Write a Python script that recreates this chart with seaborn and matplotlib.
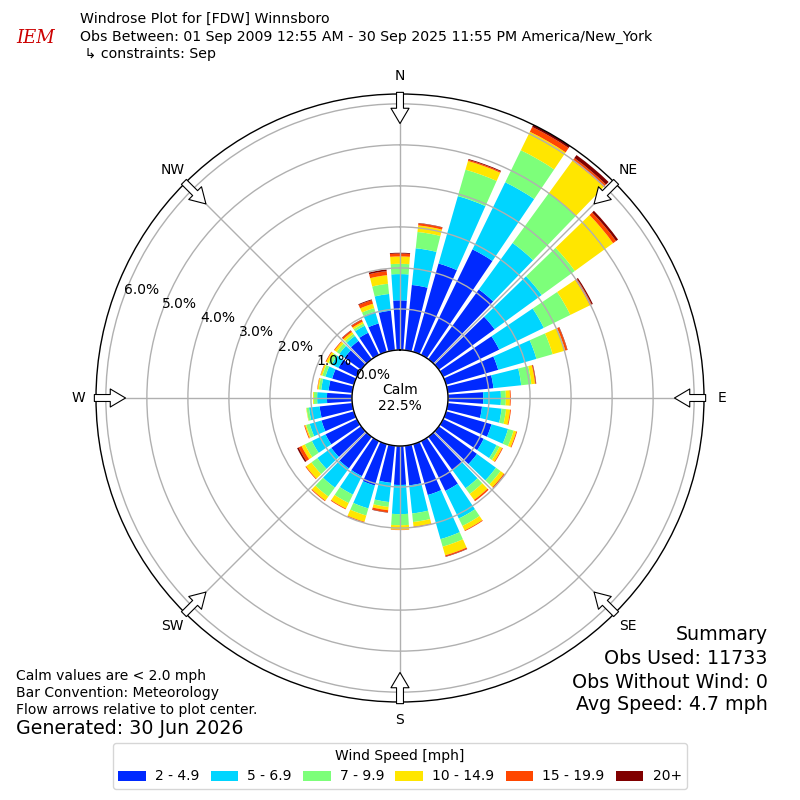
import numpy as np
import matplotlib
matplotlib.use("Agg")
import matplotlib.pyplot as plt
import seaborn as sns

# ---------------- data (percent of observations) ----------------
directions = [0, 10, 20, 30, 40, 50, 60, 70, 80, 90, 100, 110, 120, 130, 140, 150, 160, 170,
              180, 190, 200, 210, 220, 230, 240, 250, 260, 270, 280, 290, 300, 310, 320, 330, 340, 350]
speed_labels = ["2 - 4.9", "5 - 6.9", "7 - 9.9", "10 - 14.9", "15 - 19.9", "20+"]

bin_2_5 = [1.21, 1.60, 2.24, 2.86, 2.10, 1.68, 1.52, 1.32, 1.12, 0.86, 0.84, 1.15, 1.10, 1.15, 1.00, 1.35, 1.29, 0.97,
           0.95, 0.91, 1.05, 0.95, 0.95, 0.90, 0.85, 0.82, 0.80, 0.61, 0.58, 0.55, 0.50, 0.50, 0.55, 0.60, 0.72, 0.97]
bin_5_7 = [0.64, 0.90, 1.71, 1.82, 1.40, 1.42, 1.21, 0.97, 0.68, 0.43, 0.48, 0.42, 0.35, 0.57, 0.55, 0.75, 1.12, 0.69,
           0.71, 0.47, 0.58, 0.50, 0.58, 0.42, 0.37, 0.30, 0.26, 0.24, 0.18, 0.17, 0.18, 0.16, 0.15, 0.19, 0.30, 0.41]
bin_7_10 = [0.25, 0.40, 0.67, 0.87, 1.50, 1.00, 0.72, 0.41, 0.25, 0.12, 0.11, 0.14, 0.08, 0.14, 0.17, 0.20, 0.19, 0.21,
            0.27, 0.12, 0.18, 0.23, 0.27, 0.18, 0.19, 0.09, 0.06, 0.08, 0.06, 0.08, 0.09, 0.08, 0.06, 0.06, 0.09, 0.25]
bin_10_15 = [0.18, 0.16, 0.22, 0.50, 0.98, 1.15, 0.53, 0.32, 0.09, 0.10, 0.10, 0.07, 0.07, 0.10, 0.18, 0.12, 0.22, 0.11,
             0.11, 0.08, 0.16, 0.15, 0.12, 0.16, 0.09, 0.03, 0.01, 0.02, 0.03, 0.04, 0.06, 0.06, 0.06, 0.05, 0.11, 0.21]
bin_15_20 = [0.07, 0.05, 0.03, 0.13, 0.08, 0.09, 0.05, 0.05, 0.02, 0.02, 0.02, 0.02, 0.02, 0.03, 0.04, 0.02, 0.03, 0.02,
             0.01, 0.05, 0.02, 0.02, 0.02, 0.02, 0.08, 0.02, 0.00, 0.00, 0.01, 0.01, 0.02, 0.02, 0.04, 0.05, 0.09, 0.10]
bin_20p = [0.02, 0.01, 0.02, 0.06, 0.09, 0.06, 0.03, 0.01, 0.01, 0.00, 0.00, 0.00, 0.00, 0.00, 0.00, 0.00, 0.01, 0.00,
           0.00, 0.01, 0.00, 0.00, 0.00, 0.00, 0.04, 0.00, 0.00, 0.00, 0.00, 0.00, 0.00, 0.00, 0.01, 0.01, 0.02, 0.04]
speed_bins = [bin_2_5, bin_5_7, bin_7_10, bin_10_15, bin_15_20, bin_20p]

calm_pct = 22.5
ring_ticks = [0, 1, 2, 3, 4, 5, 6]
compass = ["N", "NE", "E", "SE", "S", "SW", "W", "NW"]

# ---------------- style ----------------
sns.set_style("white")
plt.rcParams["font.family"] = ["DejaVu Sans"]
plt.rcParams["text.color"] = "black"
plt.rcParams["axes.labelcolor"] = "black"
plt.rcParams["xtick.color"] = "black"
plt.rcParams["ytick.color"] = "black"
plt.rcParams["axes.axisbelow"] = "line"

cmap = plt.get_cmap("jet")
palette = sns.color_palette([cmap(i / 6.0) for i in range(1, 7)])

fig = plt.figure(figsize=(8, 8), dpi=100)
ax = fig.add_axes([0.12, 0.1225, 0.76, 0.76], projection="polar")
ax.set_theta_zero_location("N")
ax.set_theta_direction(-1)

theta = np.deg2rad(directions)
width = np.deg2rad(8.0)
bottom = np.zeros(len(directions))
handles = []
for vals, col, lab in zip(speed_bins, palette, speed_labels):
    v = np.asarray(vals)
    bars = ax.bar(theta, v, width=width, bottom=bottom, color=col, linewidth=0,
                  label=lab, zorder=1)
    handles.append(bars)
    bottom = bottom + v

rmax = bottom.max()
ax.set_rorigin(-0.1875 * rmax)
ax.set_ylim(0, rmax)
ax.set_yticks(ring_ticks)
ax.set_yticklabels(["%.1f%%" % t for t in ring_ticks], fontsize=10)
ax.set_rlabel_position(290)
ax.set_thetagrids(np.arange(0, 360, 45), labels=compass, fontsize=10)
ax.tick_params(axis="x", pad=2.5)
ax.grid(True, color="#b0b0b0", linewidth=1.0)
for name, sp in ax.spines.items():
    sp.set_edgecolor("black")
    sp.set_linewidth(1.0)

# flow arrows at the compass points
for d in range(0, 360, 45):
    t = np.deg2rad(d)
    ax.annotate("", xy=(t, rmax - 0.72), xytext=(t, rmax + 0.04),
                arrowprops=dict(facecolor="white", edgecolor="black", width=5,
                                headwidth=13, headlength=11, shrink=0, lw=0.8),
                annotation_clip=False, zorder=5)

ax.text(0.5, 0.5, "Calm\n%.1f%%" % calm_pct, transform=ax.transAxes,
        ha="center", va="center", fontsize=10, zorder=6)

# header
fig.text(0.1, 1 - 19 / 800, "Windrose Plot for [FDW] Winnsboro", fontsize=10.15, va="center")
fig.text(0.1, 1 - 37 / 800,
         "Obs Between: 01 Sep 2009 12:55 AM - 30 Sep 2025 11:55 PM America/New_York",
         fontsize=10.15, va="center")
fig.text(0.1, 1 - 54 / 800, " \u21b3 constraints: Sep", fontsize=10.15, va="center")
fig.text(0.044, 1 - 38 / 800, "IEM", fontsize=13, color="#cc0000", family="serif",
         style="italic", ha="center", va="center")

# footer left
fig.text(0.02, 1 - 676 / 800, "Calm values are < 2.0 mph", fontsize=10, va="center")
fig.text(0.02, 1 - 693 / 800, "Bar Convention: Meteorology", fontsize=10, va="center")
fig.text(0.02, 1 - 710 / 800, "Flow arrows relative to plot center.", fontsize=10, va="center")
fig.text(0.02, 1 - 729 / 800, "Generated: 30 Jun 2026", fontsize=13.7, va="center")

# summary right
for y, s in zip([635, 659, 682, 705],
                ["Summary", "Obs Used: 11733", "Obs Without Wind: 0", "Avg Speed: 4.7 mph"]):
    fig.text(0.96, 1 - y / 800, s, fontsize=13.7, ha="right", va="center")

leg = fig.legend(handles=handles, labels=speed_labels, loc="lower center",
                 bbox_to_anchor=(0.5, 0.005), ncol=6, title="Wind Speed [mph]",
                 fontsize=10, title_fontsize=10, frameon=True,
                 columnspacing=0.8, handletextpad=0.65)
leg.get_frame().set_edgecolor("#cccccc")

fig.savefig("out.png", dpi=100)
